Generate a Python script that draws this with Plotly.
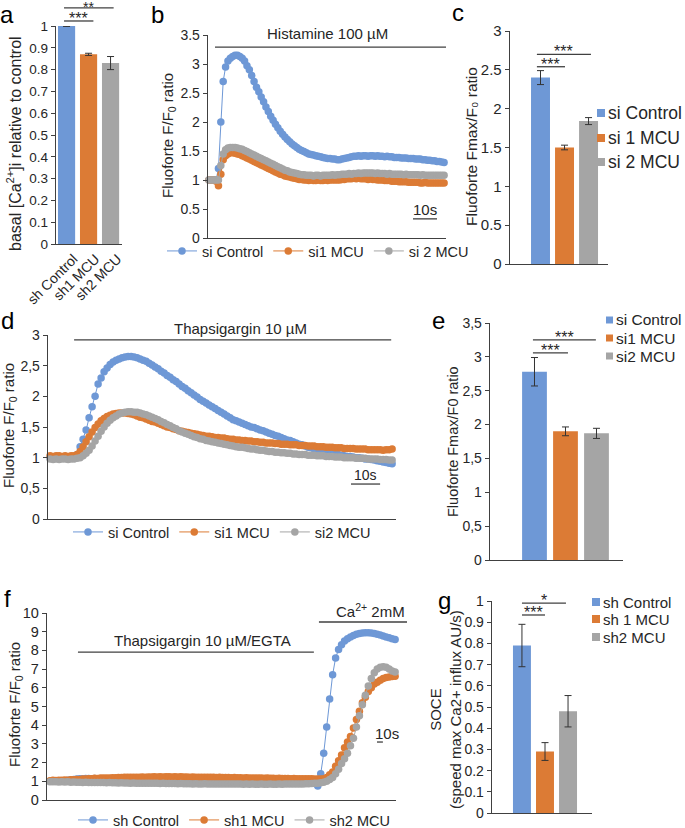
import plotly.graph_objects as go

W, H = 685, 828
BLUE = "#6E98D6"
ORANGE = "#DC7B35"
GRAY = "#A5A5A5"
AXC = "#404040"
TXT = "#262626"
FONT = "Liberation Sans, Arial, sans-serif"

# ---------------- data ----------------
# a: basal calcium
a_labels = ["sh Control", "sh1 MCU", "sh2 MCU"]
a_values = [1.0, 0.87, 0.83]
a_errors = [0.002, 0.005, 0.03]

# b: histamine traces
b_names = ["si Control", "si1 MCU", "si 2 MCU"]
b_control = [1.0, 1.0, 1.0, 1.0, 1.2, 2.0, 2.7, 2.95, 3.05, 3.1,
             3.13, 3.15, 3.15, 3.13, 3.1, 3.05, 2.97, 2.9, 2.8, 2.7,
             2.6, 2.52, 2.43, 2.35, 2.26, 2.18, 2.1, 2.03, 1.96, 1.9,
             1.84, 1.79, 1.74, 1.7, 1.66, 1.62, 1.59, 1.56, 1.53, 1.51,
             1.49, 1.47, 1.45, 1.44, 1.43, 1.42, 1.41, 1.4, 1.39, 1.38,
             1.37, 1.37, 1.36, 1.36, 1.35, 1.35, 1.36, 1.37, 1.38, 1.39,
             1.4, 1.41, 1.41, 1.42, 1.41, 1.42, 1.42, 1.41, 1.42, 1.42,
             1.41, 1.42, 1.41, 1.41, 1.4, 1.41, 1.4, 1.4, 1.39, 1.39,
             1.39, 1.38, 1.38, 1.38, 1.37, 1.37, 1.37, 1.36, 1.36, 1.36,
             1.35, 1.35, 1.34, 1.34, 1.33, 1.33, 1.32, 1.32, 1.31, 1.3]
b_mcu1 = [1.0, 1.0, 1.0, 0.98, 0.9, 1.1, 1.35, 1.42, 1.45, 1.47,
          1.47, 1.46, 1.45, 1.44, 1.42, 1.4, 1.38, 1.36, 1.34, 1.32,
          1.3, 1.28, 1.26, 1.24, 1.22, 1.2, 1.18, 1.16, 1.14, 1.12,
          1.1, 1.09, 1.07, 1.06, 1.05, 1.04, 1.03, 1.02, 1.01, 1.01,
          1.0, 1.0, 0.99, 1.0, 0.99, 0.99, 1.0, 0.99, 0.99, 1.0,
          0.99, 1.0, 1.0, 1.0, 1.0, 1.0, 1.01, 1.01, 1.02, 1.02,
          1.02, 1.03, 1.02, 1.03, 1.02, 1.02, 1.02, 1.01, 1.02, 1.01,
          1.01, 1.0, 1.0, 1.0, 0.99, 0.99, 0.99, 0.98, 0.98, 0.98,
          0.97, 0.97, 0.97, 0.97, 0.96, 0.96, 0.96, 0.96, 0.96, 0.95,
          0.95, 0.96, 0.95, 0.95, 0.95, 0.95, 0.95, 0.95, 0.95, 0.95]
b_mcu2 = [1.0, 1.0, 1.0, 1.0, 1.0, 1.25, 1.45, 1.52, 1.55, 1.56,
          1.56, 1.56, 1.55, 1.54, 1.53, 1.51, 1.49, 1.47, 1.45, 1.43,
          1.41, 1.39, 1.37, 1.35, 1.33, 1.31, 1.29, 1.27, 1.25, 1.23,
          1.21, 1.19, 1.17, 1.16, 1.14, 1.13, 1.12, 1.11, 1.1, 1.09,
          1.09, 1.08, 1.08, 1.08, 1.07, 1.08, 1.08, 1.07, 1.08, 1.08,
          1.08, 1.08, 1.09, 1.08, 1.09, 1.09, 1.1, 1.1, 1.1, 1.11,
          1.1, 1.11, 1.11, 1.12, 1.11, 1.12, 1.12, 1.12, 1.12, 1.12,
          1.11, 1.12, 1.11, 1.11, 1.11, 1.1, 1.11, 1.1, 1.1, 1.1,
          1.1, 1.1, 1.09, 1.1, 1.09, 1.09, 1.09, 1.09, 1.09, 1.08,
          1.09, 1.08, 1.08, 1.08, 1.08, 1.08, 1.08, 1.08, 1.08, 1.08]

# c: Fmax/F0 histamine
c_labels = ["si Control", "si 1 MCU", "si 2 MCU"]
c_values = [2.40, 1.50, 1.84]
c_errors = [0.09, 0.03, 0.045]

# d: thapsigargin traces
d_names = ["si Control", "si1 MCU", "si2 MCU"]
d_control = [1.0, 0.99, 1.0, 1.01, 1.0, 1.0, 1.01, 1.0, 1.01, 1.05,
             1.18, 1.3, 1.45, 1.65, 1.83, 2.0, 2.2, 2.3, 2.4, 2.46,
             2.52, 2.56, 2.59, 2.61, 2.63, 2.64, 2.65, 2.65, 2.64, 2.63,
             2.61, 2.59, 2.57, 2.54, 2.51, 2.48, 2.45, 2.41, 2.38, 2.34,
             2.31, 2.27, 2.24, 2.2, 2.16, 2.13, 2.09, 2.06, 2.02, 1.99,
             1.95, 1.92, 1.89, 1.86, 1.83, 1.8, 1.77, 1.74, 1.71, 1.68,
             1.65, 1.62, 1.6, 1.58, 1.56, 1.54, 1.52, 1.5, 1.49, 1.47,
             1.45, 1.44, 1.42, 1.4, 1.38, 1.36, 1.35, 1.33, 1.31, 1.29,
             1.28, 1.26, 1.24, 1.22, 1.21, 1.19, 1.17, 1.16, 1.14, 1.13,
             1.12, 1.11, 1.1, 1.09, 1.07, 1.06, 1.05, 1.04, 1.03, 1.02,
             1.02, 1.01, 1.0, 1.0, 0.99, 0.98, 0.98, 0.97, 0.96, 0.95,
             0.94, 0.93, 0.92, 0.91, 0.9]
d_mcu1 = [1.03, 1.02, 1.03, 1.03, 1.02, 1.03, 1.02, 1.03, 1.03, 1.05,
          1.1, 1.18, 1.26, 1.34, 1.42, 1.49, 1.55, 1.6, 1.64, 1.67,
          1.69, 1.71, 1.72, 1.73, 1.73, 1.73, 1.72, 1.71, 1.7, 1.68,
          1.66, 1.65, 1.63, 1.61, 1.59, 1.58, 1.56, 1.54, 1.52, 1.5,
          1.49, 1.47, 1.46, 1.44, 1.43, 1.42, 1.41, 1.4, 1.39, 1.38,
          1.37, 1.36, 1.35, 1.35, 1.34, 1.33, 1.33, 1.32, 1.32, 1.31,
          1.3, 1.3, 1.29, 1.29, 1.28, 1.28, 1.27, 1.27, 1.26, 1.26,
          1.25, 1.25, 1.24, 1.24, 1.24, 1.23, 1.23, 1.22, 1.22, 1.22,
          1.21, 1.21, 1.21, 1.2, 1.2, 1.2, 1.19, 1.19, 1.19, 1.18,
          1.18, 1.18, 1.17, 1.17, 1.17, 1.16, 1.16, 1.16, 1.15, 1.15,
          1.15, 1.15, 1.14, 1.14, 1.14, 1.14, 1.13, 1.13, 1.13, 1.13,
          1.13, 1.12, 1.13, 1.13, 1.14]
d_mcu2 = [0.98, 0.97, 0.98, 0.97, 0.98, 0.98, 0.97, 0.98, 0.98, 0.99,
          1.0, 1.03, 1.07, 1.12, 1.19, 1.27, 1.35, 1.43, 1.5, 1.56,
          1.61, 1.65, 1.68, 1.71, 1.73, 1.74, 1.75, 1.75, 1.74, 1.74,
          1.73, 1.71, 1.7, 1.68, 1.66, 1.64, 1.62, 1.59, 1.57, 1.54,
          1.52, 1.49, 1.47, 1.44, 1.42, 1.4, 1.38, 1.36, 1.34, 1.33,
          1.31, 1.3, 1.28, 1.27, 1.26, 1.25, 1.24, 1.23, 1.22, 1.21,
          1.2, 1.19, 1.18, 1.17, 1.17, 1.16, 1.15, 1.14, 1.14, 1.13,
          1.12, 1.12, 1.11, 1.1, 1.1, 1.09, 1.09, 1.08, 1.08, 1.07,
          1.07, 1.06, 1.06, 1.05, 1.05, 1.05, 1.04, 1.04, 1.04, 1.03,
          1.03, 1.03, 1.02, 1.02, 1.02, 1.01, 1.01, 1.01, 1.0, 1.0,
          1.0, 1.0, 0.99, 0.99, 0.99, 0.99, 0.98, 0.98, 0.98, 0.98,
          0.97, 0.97, 0.97, 0.96, 0.96]

# e: Fmax/F0 thapsigargin
e_labels = ["si Control", "si1 MCU", "si2 MCU"]
e_values = [2.78, 1.90, 1.87]
e_errors = [0.21, 0.065, 0.075]

# f: SOCE traces
f_names = ["sh Control", "sh1 MCU", "sh2 MCU"]
f_control = [1.0, 1.02, 1.0, 1.01, 1.03, 1.02, 1.05, 1.08, 1.1, 1.12,
             1.13, 1.14, 1.15, 1.15, 1.14, 1.15, 1.14, 1.13, 1.12, 1.12,
             1.1, 1.1, 1.09, 1.08, 1.08, 1.07, 1.07, 1.06, 1.06, 1.05,
             1.05, 1.05, 1.04, 1.04, 1.05, 1.04, 1.04, 1.03, 1.04, 1.03,
             1.03, 1.03, 1.02, 1.03, 1.02, 1.02, 1.02, 1.01, 1.02, 1.01,
             1.01, 1.01, 1.0, 1.01, 1.0, 1.0, 1.0, 0.99, 1.0, 0.99,
             0.99, 0.99, 0.98, 0.99, 0.98, 0.98, 0.98, 0.97, 0.98, 0.97,
             0.97, 0.97, 0.96, 0.97, 0.96, 0.96, 0.96, 0.95, 0.96, 0.95,
             0.95, 0.95, 0.94, 0.95, 0.94, 0.94, 0.93, 0.93, 0.92, 0.88,
             0.75, 1.4, 2.5, 3.9, 5.4, 6.7, 7.6, 8.05, 8.3, 8.5,
             8.62, 8.72, 8.8, 8.86, 8.9, 8.93, 8.95, 8.95, 8.93, 8.9,
             8.86, 8.82, 8.77, 8.72, 8.67, 8.62, 8.58]
f_mcu1 = [1.03, 1.05, 1.04, 1.06, 1.05, 1.07, 1.06, 1.08, 1.08, 1.1,
          1.1, 1.12, 1.12, 1.14, 1.14, 1.16, 1.15, 1.17, 1.17, 1.18,
          1.18, 1.19, 1.19, 1.2, 1.2, 1.21, 1.21, 1.22, 1.21, 1.22,
          1.22, 1.23, 1.22, 1.23, 1.23, 1.24, 1.23, 1.24, 1.23, 1.24,
          1.24, 1.23, 1.24, 1.23, 1.24, 1.23, 1.23, 1.22, 1.23, 1.22,
          1.22, 1.22, 1.21, 1.22, 1.21, 1.21, 1.2, 1.21, 1.2, 1.2,
          1.2, 1.19, 1.2, 1.19, 1.19, 1.18, 1.19, 1.18, 1.18, 1.17,
          1.17, 1.17, 1.16, 1.17, 1.16, 1.16, 1.15, 1.16, 1.15, 1.15,
          1.15, 1.14, 1.15, 1.14, 1.14, 1.13, 1.14, 1.13, 1.13, 1.12,
          1.12, 1.12, 1.13, 1.2, 1.35, 1.5, 1.8, 2.1, 2.4, 2.8,
          3.1, 3.4, 3.85, 4.3, 4.75, 5.2, 5.5, 5.8, 6.0, 6.2,
          6.3, 6.4, 6.5, 6.55, 6.58, 6.6, 6.62]
f_mcu2 = [0.98, 0.97, 0.98, 0.96, 0.97, 0.96, 0.97, 0.95, 0.96, 0.95,
          0.95, 0.94, 0.95, 0.94, 0.94, 0.93, 0.94, 0.93, 0.93, 0.92,
          0.93, 0.92, 0.92, 0.91, 0.92, 0.91, 0.91, 0.9, 0.91, 0.9,
          0.9, 0.9, 0.89, 0.9, 0.89, 0.89, 0.89, 0.88, 0.89, 0.88,
          0.88, 0.88, 0.88, 0.87, 0.88, 0.87, 0.87, 0.87, 0.86, 0.87,
          0.86, 0.86, 0.87, 0.86, 0.86, 0.85, 0.86, 0.85, 0.86, 0.85,
          0.85, 0.85, 0.86, 0.85, 0.85, 0.84, 0.85, 0.84, 0.85, 0.84,
          0.84, 0.85, 0.84, 0.84, 0.85, 0.84, 0.84, 0.85, 0.84, 0.85,
          0.85, 0.85, 0.86, 0.85, 0.86, 0.86, 0.87, 0.87, 0.88, 0.89,
          0.9, 0.92, 0.95, 1.0, 1.1, 1.2, 1.4, 1.65, 1.95, 2.2,
          2.5, 2.9, 3.3, 3.9, 4.5, 5.1, 5.6, 6.1, 6.5, 6.8,
          7.0, 7.1, 7.12, 7.1, 7.0, 6.9, 6.85]

# g: SOCE speed
g_labels = ["sh Control", "sh 1 MCU", "sh2 MCU"]
g_values = [0.79, 0.29, 0.48]
g_errors = [0.10, 0.042, 0.074]

COLORS = [BLUE, ORANGE, GRAY]

# ---------------- panel geometry (pixels) ----------------
# k: (x_left, x_right, y_top, y_bottom, x_range, y_range)
GEOM = {
    1: (56, 122, 26, 244, (-0.48, 2.52), (0, 1)),
    2: (208, 446, 35, 238, (-0.4, 99.8), (0, 3.5)),
    3: (510, 608, 31, 264, (-1.27, 2.81), (0, 3)),
    4: (48, 396, 335, 519, (-0.7, 115.3), (0, 3)),
    5: (490, 623, 323, 560, (-1.435, 2.855), (0, 3.5)),
    6: (47, 396, 613, 800, (-1, 116.3), (0, 10)),
    7: (492, 592, 601, 813, (-1.30, 3.04), (0, 1)),
}


def px(x):
    return x / W


def py(y):
    return 1 - y / H


def to_paper(k, x, y):
    xl, xr, yt, yb, (x0, x1), (y0, y1) = GEOM[k]
    X = xl + (x - x0) / (x1 - x0) * (xr - xl)
    Y = yb - (y - y0) / (y1 - y0) * (yb - yt)
    return px(X), py(Y)


def axn(k, letter):
    return letter + ("" if k == 1 else str(k))


fig = go.Figure()
BARW = {1: 0.78, 3: 0.79, 5: 0.8, 7: 0.78}


def add_bars(k, values, errors):
    for i, (v, e) in enumerate(zip(values, errors)):
        fig.add_trace(go.Bar(
            x=[i], y=[v], width=BARW[k], marker=dict(color=COLORS[i], line=dict(width=0)),
            error_y=dict(type="data", array=[e], visible=True, color="#333333", thickness=1, width=3.5),
            xaxis=axn(k, "x"), yaxis=axn(k, "y"), showlegend=False, hoverinfo="skip"))


def add_lines(k, series, names, legend):
    for s, n, c in zip(series, names, COLORS):
        fig.add_trace(go.Scatter(
            x=list(range(len(s))), y=s, mode="lines+markers", name=n,
            marker=dict(size=7.5, color=c), line=dict(width=1, color=c),
            xaxis=axn(k, "x"), yaxis=axn(k, "y"), legend=legend,
            cliponaxis=False, hoverinfo="skip"))


add_bars(1, a_values, a_errors)
add_lines(2, [b_control, b_mcu1, b_mcu2], b_names, "legend")
add_bars(3, c_values, c_errors)
add_lines(4, [d_control, d_mcu1, d_mcu2], d_names, "legend2")
add_bars(5, e_values, e_errors)
add_lines(6, [f_control, f_mcu1, f_mcu2], f_names, "legend3")
add_bars(7, g_values, g_errors)


def tf(size):
    return dict(family=FONT, size=size, color=TXT)


def yax(k, size, **kw):
    xl, xr, yt, yb, xrng, yrng = GEOM[k]
    d = dict(domain=[py(yb), py(yt)], range=list(yrng), anchor=axn(k, "x"), showline=True,
             linecolor=AXC, linewidth=1.3, ticks="outside", ticklen=4, tickcolor=AXC, tickwidth=1,
             showgrid=False, zeroline=False, tickfont=tf(size), fixedrange=True)
    d.update(kw)
    return d


def xax(k, **kw):
    xl, xr, yt, yb, xrng, yrng = GEOM[k]
    d = dict(domain=[px(xl), px(xr)], range=list(xrng), anchor=axn(k, "y"), showline=True,
             linecolor=AXC, linewidth=1.3, ticks="", showticklabels=False, showgrid=False,
             zeroline=False, fixedrange=True)
    d.update(kw)
    return d


layout = dict(
    width=W, height=H, margin=dict(l=0, r=0, t=0, b=0, autoexpand=False),
    paper_bgcolor="white", plot_bgcolor="white",
    font=dict(family=FONT, size=14, color=TXT),
    xaxis=xax(1, showticklabels=True, tickvals=[0, 1, 2], ticktext=a_labels, tickangle=-45,
              ticklabelshift=7, tickfont=tf(14)),
    yaxis=yax(1, 13.5, dtick=0.1),
    xaxis2=xax(2), yaxis2=yax(2, 14, dtick=0.5),
    xaxis3=xax(3), yaxis3=yax(3, 15, dtick=0.5),
    xaxis4=xax(4),
    yaxis4=yax(4, 14, tickvals=[0, 0.5, 1, 1.5, 2, 2.5, 3],
               ticktext=["0", "0,5", "1", "1,5", "2", "2,5", "3"]),
    xaxis5=xax(5),
    yaxis5=yax(5, 14, tickvals=[0, 0.5, 1, 1.5, 2, 2.5, 3, 3.5],
               ticktext=["0", "0,5", "1", "1,5", "2", "2,5", "3", "3,5"]),
    xaxis6=xax(6), yaxis6=yax(6, 14.5, dtick=1),
    xaxis7=xax(7), yaxis7=yax(7, 14, dtick=0.1),
)

for name, cx, cy in [("legend", 318, 251), ("legend2", 222, 532), ("legend3", 234, 820)]:
    layout[name] = dict(orientation="h", x=px(cx), y=py(cy), xanchor="center", yanchor="middle",
                        font=tf(14.5), bgcolor="rgba(0,0,0,0)", itemwidth=30, itemclick=False)

fig.update_layout(**layout)

ann = []
shapes = []


def seg(k, x0, x1, y, width=1.3):
    X0, Y = to_paper(k, x0, y)
    X1, _ = to_paper(k, x1, y)
    shapes.append(dict(type="line", xref="paper", yref="paper", x0=X0, x1=X1, y0=Y, y1=Y,
                       line=dict(color=AXC, width=width)))


def txt(k, x, y, s, size=14.5, xanchor="center", yanchor="bottom", yshift=0):
    X, Y = to_paper(k, x, y)
    ann.append(dict(xref="paper", yref="paper", x=X, y=Y, text=s, showarrow=False,
                    xanchor=xanchor, yanchor=yanchor, yshift=yshift, font=tf(size)))


def sig(k, x0, x1, y, stars, size=16, yshift=-8):
    seg(k, x0, x1, y)
    txt(k, (x0 + x1) / 2, y, stars, size=size, yshift=yshift)


# significance brackets
sig(1, -0.115, 2.14, 1.083, "**", size=14, yshift=-9)
sig(1, -0.115, 1.22, 1.023, "***")
sig(3, -0.15, 2.1, 2.70, "***")
sig(3, -0.15, 1.02, 2.54, "***")
sig(5, -0.05, 1.98, 3.25, "***")
sig(5, -0.05, 1.08, 3.06, "***")
sig(7, 0, 1.91, 0.99, "*")
sig(7, 0, 1.0, 0.934, "***")

# stimulus bars and scale bars
seg(2, 2.55, 99.8, 3.29)
txt(2, 49.7, 3.29, "Histamine 100 µM", size=15, yshift=3)
seg(2, 85.9, 96, 0.33)
txt(2, 91, 0.33, "10s", size=15, yshift=-1)

seg(4, 8, 113.7, 2.92)
txt(4, 63.3, 2.92, "Thapsigargin 10 µM", size=15, yshift=1)
seg(4, 100.3, 110, 0.57)
txt(4, 105, 0.57, "10s", size=14, yshift=-1)

seg(6, 9.4, 88.7, 7.91)
txt(6, 51.4, 7.91, "Thapsigargin 10 µM/EGTA", size=15, yshift=1)
seg(6, 90.4, 120, 9.52)
txt(6, 120, 9.52, "Ca<sup>2+</sup> 2mM", size=15, xanchor="right", yshift=0)
seg(6, 109.9, 111.9, 3.1)
txt(6, 113.3, 3.58, "10s", size=15, yanchor="middle")

# bar legends (squares + labels)
for (x0, rows, labels, fs, sq) in [(597, [113, 138, 162], c_labels, 17.5, 8),
                                   (606, [320, 338, 356], e_labels, 15.5, 7),
                                   (592, [602, 619, 637], g_labels, 15, 8)]:
    for yc, lab, col in zip(rows, labels, COLORS):
        shapes.append(dict(type="rect", xref="paper", yref="paper", x0=px(x0), x1=px(x0 + sq),
                           y0=py(yc + sq / 2), y1=py(yc - sq / 2), fillcolor=col, line=dict(width=0)))
        ann.append(dict(xref="paper", yref="paper", x=px(x0 + sq + 1), y=py(yc), text=lab,
                        showarrow=False, xanchor="left", yanchor="middle", font=tf(fs)))


# axis titles
def ytitle(xc, yc, s, size=14.5):
    ann.append(dict(xref="paper", yref="paper", x=px(xc), y=py(yc), text=s, textangle=-90,
                    showarrow=False, xanchor="center", yanchor="middle", font=tf(size)))


ytitle(14, 144, "basal [Ca<sup>2+</sup>]i relative to control", 16)
ytitle(168, 136, "Fluoforte F/F<sub>0</sub> ratio", 15)
ytitle(471, 147, "Fluoforte Fmax/F₀ ratio", 15.5)
ytitle(10, 426, "Fluoforte F/F<sub>0</sub> ratio", 15)
ytitle(453, 442, "Fluoforte Fmax/F0 ratio", 14.5)
ytitle(15, 705, "Fluoforte F/F<sub>0</sub> ratio", 15)
ytitle(445, 710, "SOCE<br>(speed max Ca2+ influx AU/s)", 15)

# panel letters
for lab, xc, yc in [("a", 7, 15), ("b", 157, 15), ("c", 458, 13), ("d", 8, 321),
                    ("e", 439, 321), ("f", 8, 598), ("g", 444, 600)]:
    ann.append(dict(xref="paper", yref="paper", x=px(xc), y=py(yc), text=lab, showarrow=False,
                    xanchor="center", yanchor="middle", font=dict(family=FONT, size=24, color="black")))

fig.update_layout(annotations=ann, shapes=shapes)
fig.write_html("out.html", config={"displayModeBar": False, "staticPlot": True},
               post_script="document.body.style.margin='0';document.body.style.padding='0';"
                           "document.documentElement.style.overflow='hidden';")
